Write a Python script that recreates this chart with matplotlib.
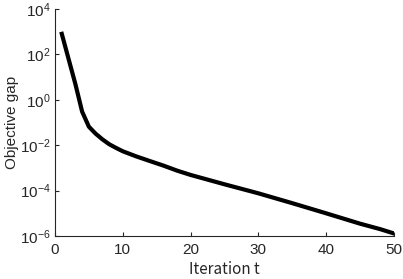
import matplotlib
matplotlib.use("Agg")
import matplotlib.pyplot as plt
import matplotlib.ticker as mticker

plt.rcParams['font.family'] = ['Liberation Sans', 'DejaVu Sans']

# values (objective gap per iteration)
iterations = [1, 2, 3, 4, 5, 6, 7, 8, 9, 10, 12, 14, 16, 18, 20,
              25, 30, 35, 40, 45, 48, 50]
gap = [8e2, 6.3e1, 5.0, 3.0e-1, 6.5e-2, 3.2e-2, 1.8e-2, 1.1e-2, 7.6e-3, 5.4e-3,
       3.2e-3, 2.0e-3, 1.26e-3, 7.6e-4, 4.9e-4,
       1.9e-4, 7.6e-5, 2.8e-5, 1.0e-5, 3.5e-6, 2.0e-6, 1.3e-6]

xticks = [0, 10, 20, 30, 40, 50]
yticks = [1e-6, 1e-4, 1e-2, 1e0, 1e2, 1e4]

fig = plt.figure(figsize=(4.03, 2.79), dpi=100)
ax = fig.add_axes([0.1365, 0.154, 0.841, 0.814])

ax.semilogy(iterations, gap, color='black', linewidth=3)

ax.set_xlim(0, 50)
ax.set_ylim(1e-6, 1e4)
ax.set_xticks(xticks)
ax.set_yticks(yticks)
ax.yaxis.set_minor_locator(mticker.NullLocator())

ax.spines['top'].set_visible(False)
ax.spines['right'].set_visible(False)
for s in ['left', 'bottom']:
    ax.spines[s].set_color('#262626')
    ax.spines[s].set_linewidth(0.8)
ax.tick_params(direction='in', length=3, width=0.8, color='#262626',
               labelsize=11, labelcolor='#262626')
ax.tick_params(axis='x', pad=5)
ax.tick_params(axis='y', pad=3)

ax.set_xlabel('Iteration t', fontsize=11, color='#262626', labelpad=3,
              family=['Noto Sans CJK JP', 'DejaVu Sans'])
ax.set_ylabel('Objective gap', fontsize=11, color='#262626', labelpad=1)

fig.savefig('out.png', dpi=100)
